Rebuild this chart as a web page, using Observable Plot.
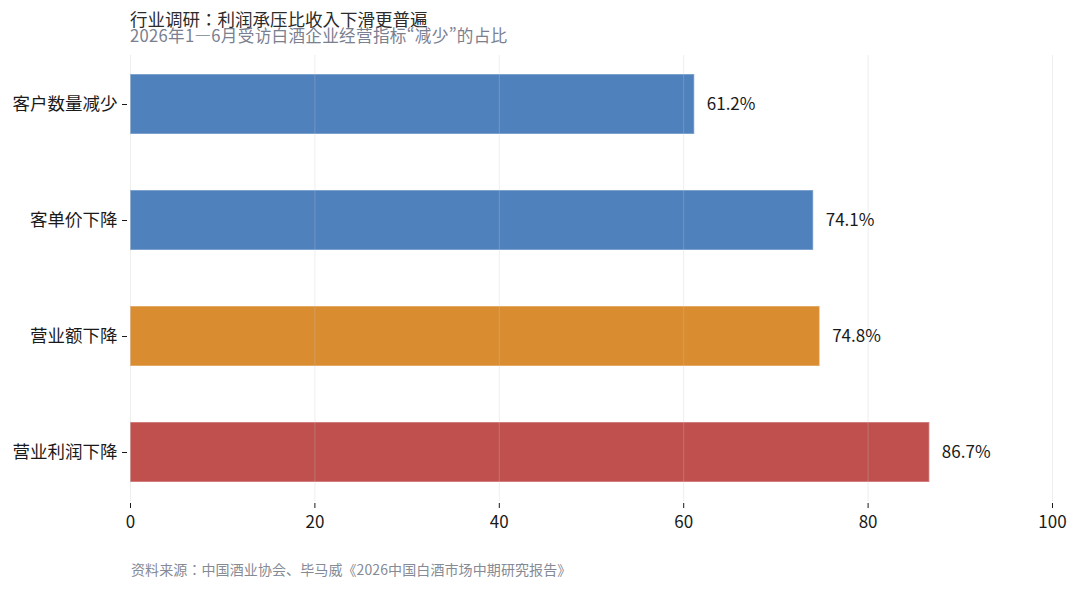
<!DOCTYPE html>
<html lang="ja">
<head>
<meta charset="utf-8">
<script src="https://cdn.jsdelivr.net/npm/d3@7"></script>
<script src="https://cdn.jsdelivr.net/npm/@observablehq/plot@0.6"></script>
<style>
  html, body { margin: 0; padding: 0; background: #fff; }
  body { width: 1080px; height: 591px; position: relative; overflow: hidden;
         font-family: "Noto Sans CJK JP", "Noto Sans", sans-serif; }
  #title { position: absolute; left: 130px; top: 10px; font-size: 17.5px; line-height: 17px; color: #2b2b2b; white-space: nowrap; }
  #subtitle { position: absolute; left: 130px; top: 27px; font-size: 16.6px; line-height: 16px; letter-spacing: 0.3px; color: #7a8090; white-space: nowrap; }
  #chart { position: absolute; left: 0; top: 46px; }
  #caption { position: absolute; left: 131px; top: 560px; font-size: 14px; line-height: 18px; letter-spacing: 0.1px; color: #858a94; white-space: nowrap; }
</style>
</head>
<body>
<div id="title">行业调研：利润承压比收入下滑更普遍</div>
<div id="subtitle">2026年1—6月受访白酒企业经营指标“减少”的占比</div>
<div id="chart"></div>
<div id="caption">资料来源：中国酒业协会、毕马威《2026中国白酒市场中期研究报告》</div>
<script>
const categories = ["客户数量减少", "客单价下降", "营业额下降", "营业利润下降"];
const values = [61.2, 74.1, 74.8, 86.7];
const barColors = ["#4f81bd", "#4f81bd", "#d98c30", "#c0504d"];
const xTicks = [0, 20, 40, 60, 80, 100];
const valueLabels = ["61.2%", "74.1%", "74.8%", "86.7%"];

const data = categories.map((c, i) => ({cat: c, value: values[i], color: barColors[i], label: valueLabels[i]}));

const chart = Plot.plot({
  width: 1080,
  height: 495,
  marginLeft: 130,
  marginRight: 28,
  marginTop: 9,
  marginBottom: 40,
  style: {fontFamily: "'Noto Sans CJK JP', 'Noto Sans', sans-serif", fontSize: "17px", color: "#1a1a1a", background: "transparent"},
  x: {domain: [0, 100]},
  y: {domain: categories, paddingInner: 0.48, paddingOuter: 0.16},
  marks: [
    Plot.barX(data, {y: "cat", x: "value", fill: "color", stroke: "#ffffff", strokeOpacity: 0.35, strokeWidth: 1.5}),
    Plot.ruleX(xTicks, {stroke: "#c8c8c8", strokeOpacity: 0.3, strokeWidth: 1}),
    Plot.text(data, {y: "cat", x: "value", text: "label", dx: 12, textAnchor: "start", fontSize: 17, fill: "#1a1a1a"}),
    Plot.axisX({ticks: xTicks, tickSize: 5, tickPadding: 7, fontSize: 17, label: null, dy: 2}),
    Plot.axisY({tickSize: 5, tickPadding: 5, dx: -3, fontSize: 17.5, label: null})
  ]
});
document.getElementById("chart").appendChild(chart);
</script>
</body>
</html>
